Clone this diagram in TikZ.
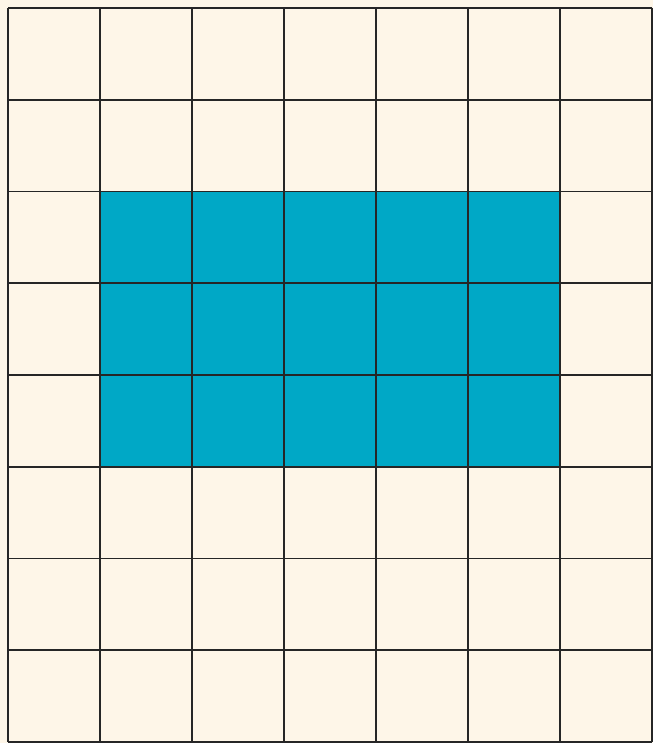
\documentclass[tikz,border=0pt]{standalone}
\definecolor{cream}{HTML}{FEF6E8}
\definecolor{teal}{HTML}{00A8C6}
\tikzset{gridline/.style={line width=1.8pt, draw=black!85}}
\begin{document}
\begin{tikzpicture}[x=1pt,y=-1pt]
\useasboundingbox (0,0) rectangle (653,743);
\fill[cream] (0,0) rectangle (653,743);
\fill[teal] (100,191.5) rectangle (560,467);
\foreach \i in {0,...,7} {
  \draw[gridline] ({8+92*\i},8) -- ({8+92*\i},742);
}
\foreach \j in {0,...,8} {
  \draw[gridline] (8,{8+91.75*\j}) -- (652,{8+91.75*\j});
}
\end{tikzpicture}
\end{document}
